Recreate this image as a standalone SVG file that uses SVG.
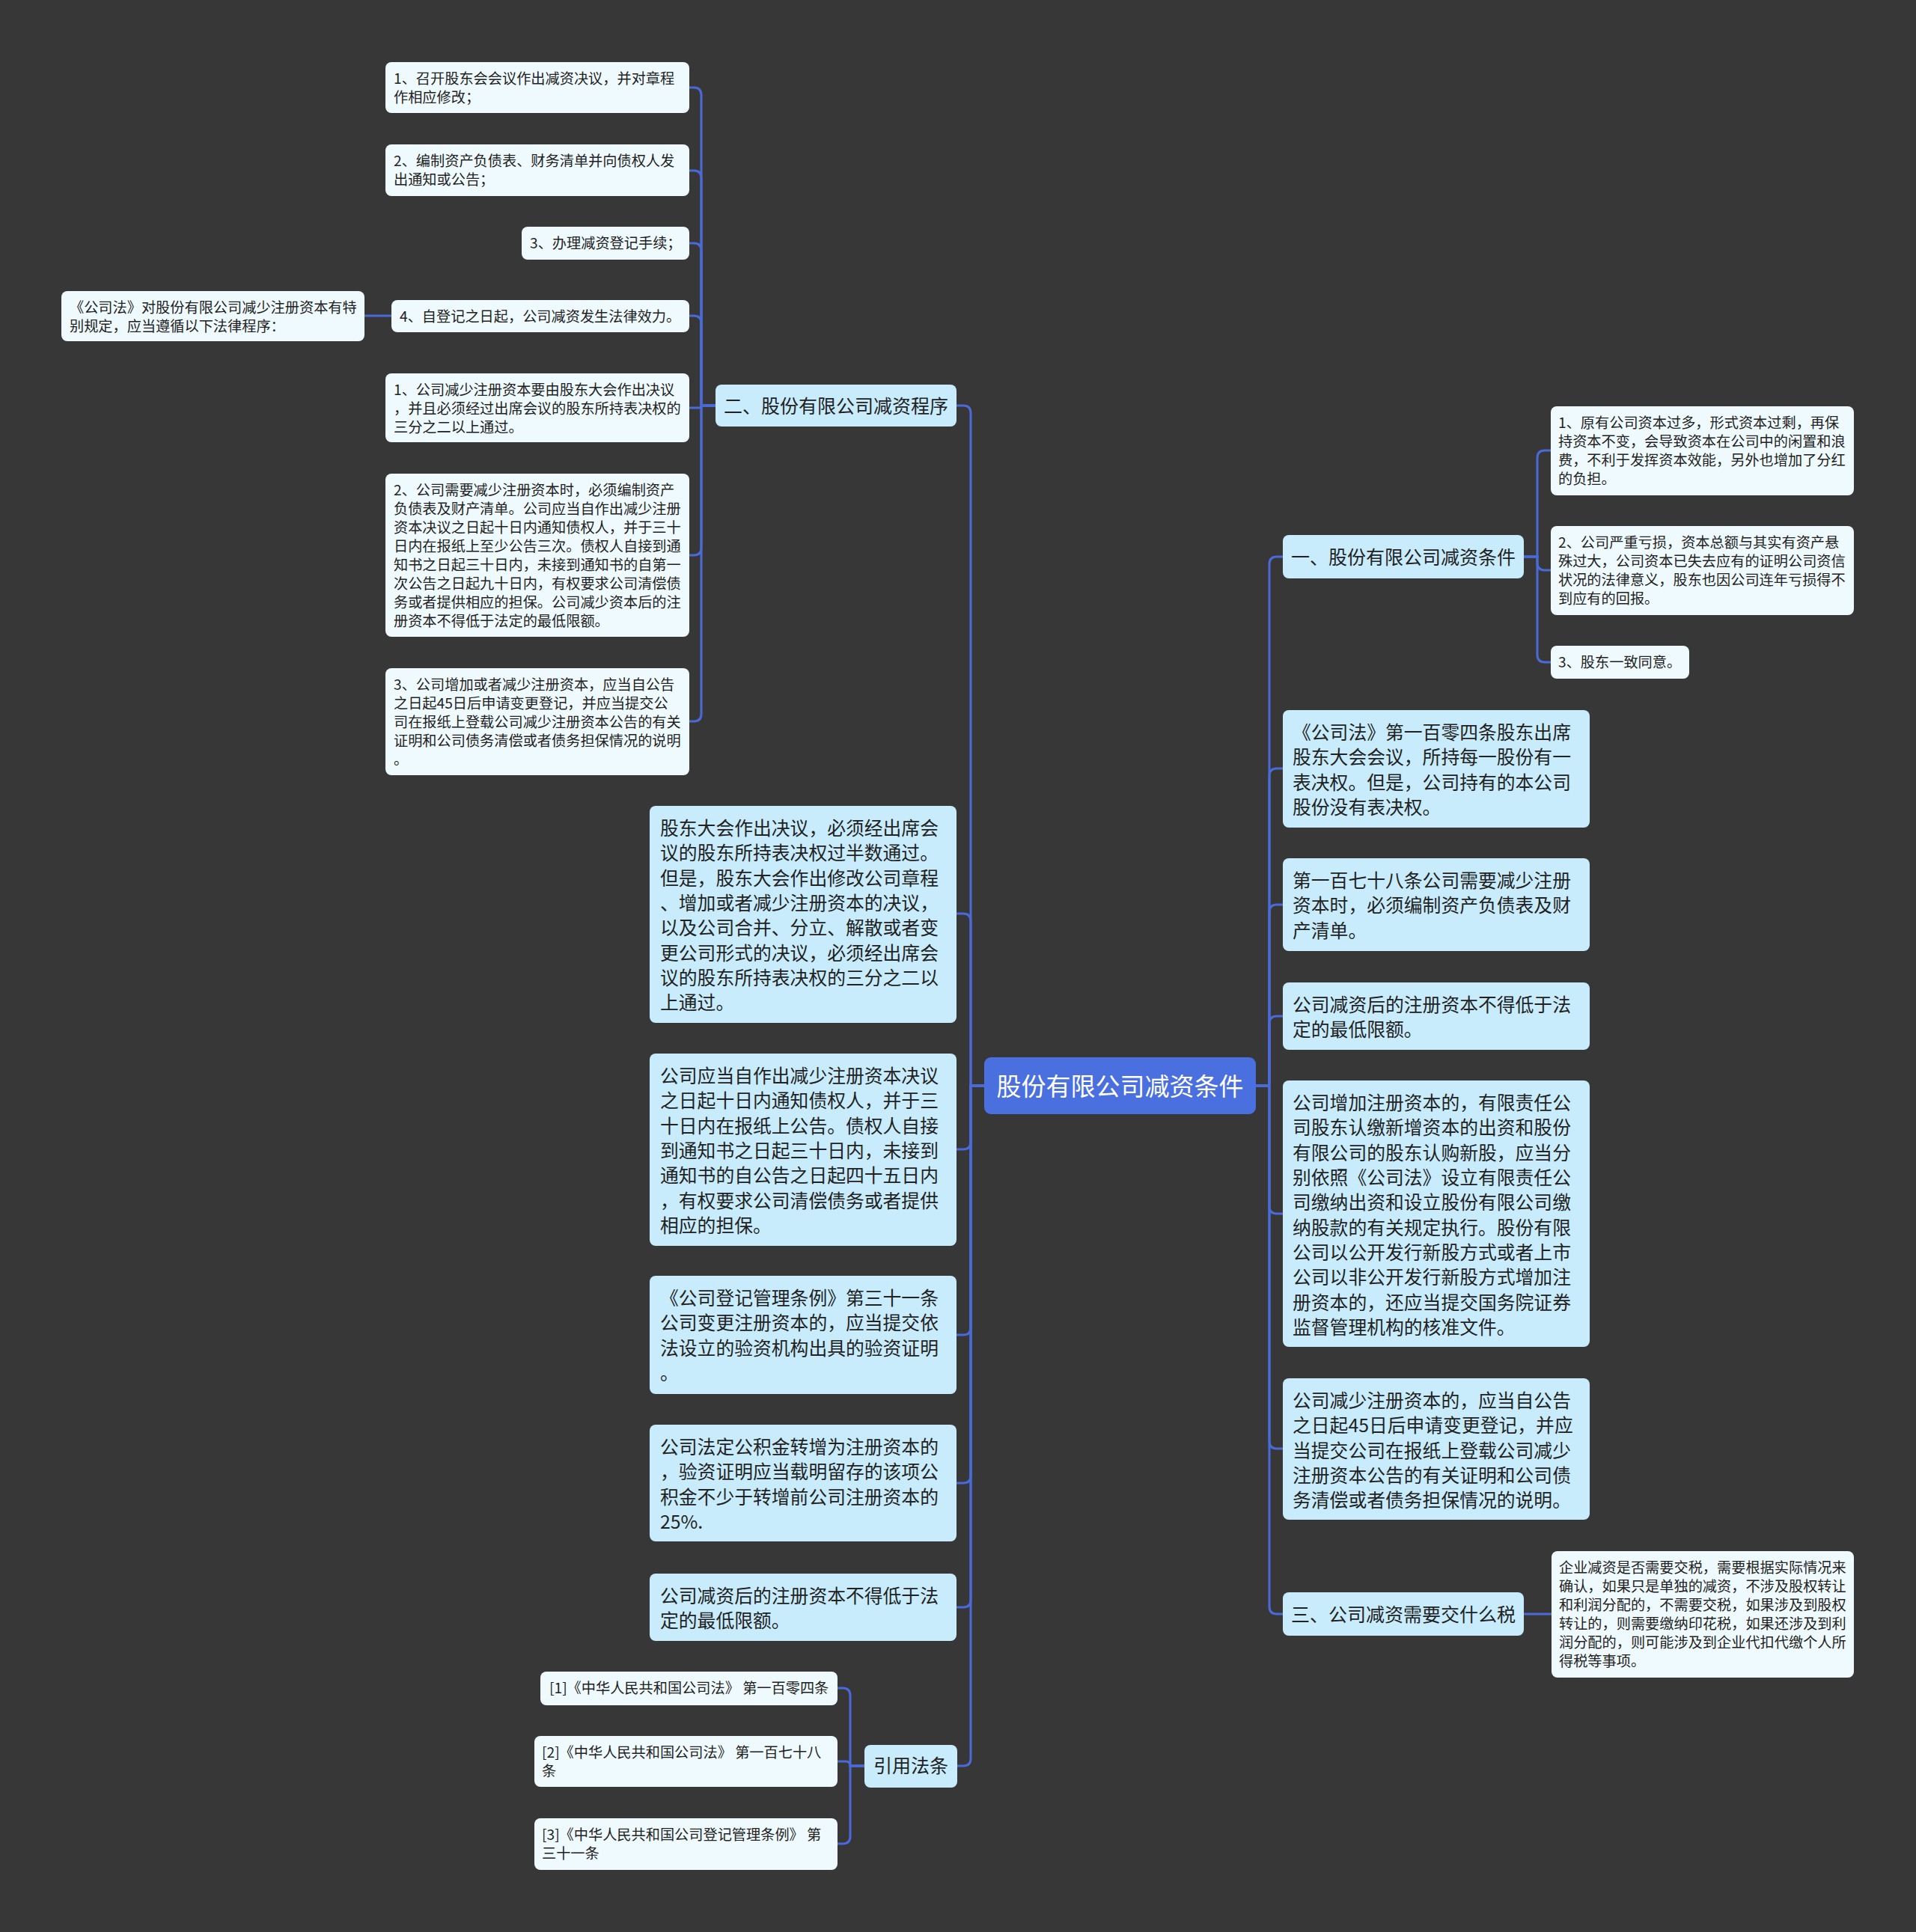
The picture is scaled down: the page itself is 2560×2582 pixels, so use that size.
<svg xmlns="http://www.w3.org/2000/svg" width="2560" height="2582" viewBox="0 0 2560 2582">
<style>
text{font-family:"Noto Sans CJK SC","Noto Sans",sans-serif;fill:#222}
.leaf{fill:#effafe}
.big{fill:#c8ecfc}
.root{fill:#4a6fdf}
.ts{font-size:19.2px}
.tb{font-size:24.8px}
.tl{font-size:25px}
.tr{font-size:33px;fill:#fff}
.c{fill:none;stroke:#4a6ad8;stroke-width:3}
</style>
<rect width="2560" height="2582" fill="#383738"/>
<g id="connectors">
<path class="c" d="M1315 1451 H1297 V552 Q1297 542 1287 542 H1278"/>
<path class="c" d="M1315 1451 H1297 V1231 Q1297 1221 1287 1221 H1278"/>
<path class="c" d="M1315 1451 H1297 V1526 Q1297 1536 1287 1536 H1278"/>
<path class="c" d="M1315 1451 H1297 V1774 Q1297 1784 1287 1784 H1278"/>
<path class="c" d="M1315 1451 H1297 V1972 Q1297 1982 1287 1982 H1278"/>
<path class="c" d="M1315 1451 H1297 V2138 Q1297 2148 1287 2148 H1278"/>
<path class="c" d="M1315 1451 H1297 V2350 Q1297 2360 1287 2360 H1279"/>
<path class="c" d="M1678 1451 H1696 V754 Q1696 744 1706 744 H1714"/>
<path class="c" d="M1678 1451 H1696 V1037 Q1696 1027 1706 1027 H1714"/>
<path class="c" d="M1678 1451 H1696 V1219 Q1696 1209 1706 1209 H1714"/>
<path class="c" d="M1678 1451 H1696 V1368 Q1696 1358 1706 1358 H1714"/>
<path class="c" d="M1678 1451 H1696 V1612 Q1696 1622 1706 1622 H1714"/>
<path class="c" d="M1678 1451 H1696 V1926 Q1696 1936 1706 1936 H1714"/>
<path class="c" d="M1678 1451 H1696 V2147 Q1696 2157 1706 2157 H1714"/>
<path class="c" d="M956 542 H937 V127 Q937 117 927 117 H921"/>
<path class="c" d="M956 542 H937 V238 Q937 228 927 228 H921"/>
<path class="c" d="M956 542 H937 V335 Q937 325 927 325 H921"/>
<path class="c" d="M956 542 H937 V432 Q937 422 927 422 H921"/>
<path class="c" d="M956 542 H937 Q937 545 934 545 H921"/>
<path class="c" d="M956 542 H937 V732 Q937 742 927 742 H921"/>
<path class="c" d="M956 542 H937 V954 Q937 964 927 964 H921"/>
<path class="c" d="M523 422 H487"/>
<path class="c" d="M2036 744 H2054 V612 Q2054 602 2064 602 H2072"/>
<path class="c" d="M2036 744 H2054 V752 Q2054 762 2064 762 H2072"/>
<path class="c" d="M2036 744 H2054 V875 Q2054 885 2064 885 H2072"/>
<path class="c" d="M2036 2157 H2073"/>
<path class="c" d="M1155 2360 H1136 V2266 Q1136 2256 1126 2256 H1119"/>
<path class="c" d="M1155 2360 H1136 Q1136 2354 1130 2354 H1119"/>
<path class="c" d="M1155 2360 H1136 V2454 Q1136 2464 1126 2464 H1119"/>
</g>
<g id="root">
<rect class="root" x="1315" y="1413" width="363" height="76" rx="9"/>
<text class="tr" x="1496.5" y="1463.5" text-anchor="middle">股份有限公司减资条件</text>
</g>
<g id="n-procedure">
<rect class="big" x="956" y="514" width="322" height="56" rx="8"/>
<text class="tl" x="1117" y="551.5" text-anchor="middle">二、股份有限公司减资程序</text>
</g>
<g id="p1"><rect class="leaf" x="515" y="83" width="406" height="68" rx="8"/>
<text class="ts" x="526" y="112.3"><tspan x="526">1、召开股东会会议作出减资决议，并对章程</tspan><tspan x="526" dy="25">作相应修改；</tspan></text></g>
<g id="p2"><rect class="leaf" x="515" y="193" width="406" height="69" rx="8"/>
<text class="ts" x="526" y="222.3"><tspan x="526">2、编制资产负债表、财务清单并向债权人发</tspan><tspan x="526" dy="25">出通知或公告；</tspan></text></g>
<g id="p3"><rect class="leaf" x="697" y="303" width="224" height="44" rx="8"/>
<text class="ts" x="708" y="332.3">3、办理减资登记手续；</text></g>
<g id="p4"><rect class="leaf" x="523" y="401" width="398" height="43" rx="8"/>
<text class="ts" x="534" y="430.3">4、自登记之日起，公司减资发生法律效力。</text></g>
<g id="p4a"><rect class="leaf" x="82" y="389" width="405" height="67" rx="8"/>
<text class="ts" x="93" y="418.3"><tspan x="93">《公司法》对股份有限公司减少注册资本有特</tspan><tspan x="93" dy="25">别规定，应当遵循以下法律程序：</tspan></text></g>
<g id="p5"><rect class="leaf" x="515" y="499" width="406" height="92" rx="8"/>
<text class="ts" x="526" y="528.3"><tspan x="526">1、公司减少注册资本要由股东大会作出决议</tspan><tspan x="526" dy="25">，并且必须经过出席会议的股东所持表决权的</tspan><tspan x="526" dy="25">三分之二以上通过。</tspan></text></g>
<g id="p6"><rect class="leaf" x="515" y="633" width="406" height="218" rx="8"/>
<text class="ts" x="526" y="662.3"><tspan x="526">2、公司需要减少注册资本时，必须编制资产</tspan><tspan x="526" dy="25">负债表及财产清单。公司应当自作出减少注册</tspan><tspan x="526" dy="25">资本决议之日起十日内通知债权人，并于三十</tspan><tspan x="526" dy="25">日内在报纸上至少公告三次。债权人自接到通</tspan><tspan x="526" dy="25">知书之日起三十日内，未接到通知书的自第一</tspan><tspan x="526" dy="25">次公告之日起九十日内，有权要求公司清偿债</tspan><tspan x="526" dy="25">务或者提供相应的担保。公司减少资本后的注</tspan><tspan x="526" dy="25">册资本不得低于法定的最低限额。</tspan></text></g>
<g id="p7"><rect class="leaf" x="515" y="893" width="406" height="143" rx="8"/>
<text class="ts" x="526" y="922.3"><tspan x="526">3、公司增加或者减少注册资本，应当自公告</tspan><tspan x="526" dy="25">之日起45日后申请变更登记，并应当提交公</tspan><tspan x="526" dy="25">司在报纸上登载公司减少注册资本公告的有关</tspan><tspan x="526" dy="25">证明和公司债务清偿或者债务担保情况的说明</tspan><tspan x="526" dy="25">。</tspan></text></g>
<g id="la"><rect class="big" x="868" y="1077" width="410" height="290" rx="8"/>
<text class="tb" x="882" y="1116.1"><tspan x="882">股东大会作出决议，必须经出席会</tspan><tspan x="882" dy="33.3">议的股东所持表决权过半数通过。</tspan><tspan x="882" dy="33.3">但是，股东大会作出修改公司章程</tspan><tspan x="882" dy="33.3">、增加或者减少注册资本的决议，</tspan><tspan x="882" dy="33.3">以及公司合并、分立、解散或者变</tspan><tspan x="882" dy="33.3">更公司形式的决议，必须经出席会</tspan><tspan x="882" dy="33.3">议的股东所持表决权的三分之二以</tspan><tspan x="882" dy="33.3">上通过。</tspan></text></g>
<g id="lb"><rect class="big" x="868" y="1408" width="410" height="257" rx="8"/>
<text class="tb" x="882" y="1447.1"><tspan x="882">公司应当自作出减少注册资本决议</tspan><tspan x="882" dy="33.3">之日起十日内通知债权人，并于三</tspan><tspan x="882" dy="33.3">十日内在报纸上公告。债权人自接</tspan><tspan x="882" dy="33.3">到通知书之日起三十日内，未接到</tspan><tspan x="882" dy="33.3">通知书的自公告之日起四十五日内</tspan><tspan x="882" dy="33.3">，有权要求公司清偿债务或者提供</tspan><tspan x="882" dy="33.3">相应的担保。</tspan></text></g>
<g id="lc"><rect class="big" x="868" y="1705" width="410" height="158" rx="8"/>
<text class="tb" x="882" y="1744.1"><tspan x="882">《公司登记管理条例》第三十一条</tspan><tspan x="882" dy="33.3">公司变更注册资本的，应当提交依</tspan><tspan x="882" dy="33.3">法设立的验资机构出具的验资证明</tspan><tspan x="882" dy="33.3">。</tspan></text></g>
<g id="ld"><rect class="big" x="868" y="1904" width="410" height="156" rx="8"/>
<text class="tb" x="882" y="1943.1"><tspan x="882">公司法定公积金转增为注册资本的</tspan><tspan x="882" dy="33.3">，验资证明应当载明留存的该项公</tspan><tspan x="882" dy="33.3">积金不少于转增前公司注册资本的</tspan><tspan x="882" dy="33.3">25%.</tspan></text></g>
<g id="le"><rect class="big" x="868" y="2103" width="410" height="90" rx="8"/>
<text class="tb" x="882" y="2142.1"><tspan x="882">公司减资后的注册资本不得低于法</tspan><tspan x="882" dy="33.3">定的最低限额。</tspan></text></g>
<g id="n-refs"><rect class="big" x="1155" y="2332" width="124" height="57" rx="8"/>
<text class="tl" x="1217" y="2369" text-anchor="middle">引用法条</text></g>
<g id="ref1"><rect class="leaf" x="722" y="2234" width="397" height="45" rx="8"/>
<text class="ts" x="734" y="2263.3">[1]《中华人民共和国公司法》 第一百零四条</text></g>
<g id="ref2"><rect class="leaf" x="714" y="2320" width="405" height="68" rx="8"/>
<text class="ts" x="724" y="2349.3"><tspan x="724">[2]《中华人民共和国公司法》 第一百七十八</tspan><tspan x="724" dy="25">条</tspan></text></g>
<g id="ref3"><rect class="leaf" x="714" y="2430" width="405" height="69" rx="8"/>
<text class="ts" x="724" y="2459.3"><tspan x="724">[3]《中华人民共和国公司登记管理条例》 第</tspan><tspan x="724" dy="25">三十一条</tspan></text></g>
<g id="n-conditions"><rect class="big" x="1714" y="715" width="322" height="58" rx="8"/>
<text class="tl" x="1875" y="753.5" text-anchor="middle">一、股份有限公司减资条件</text></g>
<g id="c1"><rect class="leaf" x="2072" y="543" width="405" height="119" rx="8"/>
<text class="ts" x="2082" y="572.3"><tspan x="2082">1、原有公司资本过多，形式资本过剩，再保</tspan><tspan x="2082" dy="25">持资本不变，会导致资本在公司中的闲置和浪</tspan><tspan x="2082" dy="25">费，不利于发挥资本效能，另外也增加了分红</tspan><tspan x="2082" dy="25">的负担。</tspan></text></g>
<g id="c2"><rect class="leaf" x="2072" y="703" width="405" height="119" rx="8"/>
<text class="ts" x="2082" y="732.3"><tspan x="2082">2、公司严重亏损，资本总额与其实有资产悬</tspan><tspan x="2082" dy="25">殊过大，公司资本已失去应有的证明公司资信</tspan><tspan x="2082" dy="25">状况的法律意义，股东也因公司连年亏损得不</tspan><tspan x="2082" dy="25">到应有的回报。</tspan></text></g>
<g id="c3"><rect class="leaf" x="2072" y="863" width="185" height="44" rx="8"/>
<text class="ts" x="2082" y="892.3">3、股东一致同意。</text></g>
<g id="ra"><rect class="big" x="1714" y="949" width="410" height="157" rx="8"/>
<text class="tb" x="1727" y="988.1"><tspan x="1727">《公司法》第一百零四条股东出席</tspan><tspan x="1727" dy="33.3">股东大会会议，所持每一股份有一</tspan><tspan x="1727" dy="33.3">表决权。但是，公司持有的本公司</tspan><tspan x="1727" dy="33.3">股份没有表决权。</tspan></text></g>
<g id="rb"><rect class="big" x="1714" y="1147" width="410" height="124" rx="8"/>
<text class="tb" x="1727" y="1186.1"><tspan x="1727">第一百七十八条公司需要减少注册</tspan><tspan x="1727" dy="33.3">资本时，必须编制资产负债表及财</tspan><tspan x="1727" dy="33.3">产清单。</tspan></text></g>
<g id="rc"><rect class="big" x="1714" y="1313" width="410" height="90" rx="8"/>
<text class="tb" x="1727" y="1352.1"><tspan x="1727">公司减资后的注册资本不得低于法</tspan><tspan x="1727" dy="33.3">定的最低限额。</tspan></text></g>
<g id="rd"><rect class="big" x="1714" y="1444" width="410" height="356" rx="8"/>
<text class="tb" x="1727" y="1483.1"><tspan x="1727">公司增加注册资本的，有限责任公</tspan><tspan x="1727" dy="33.3">司股东认缴新增资本的出资和股份</tspan><tspan x="1727" dy="33.3">有限公司的股东认购新股，应当分</tspan><tspan x="1727" dy="33.3">别依照《公司法》设立有限责任公</tspan><tspan x="1727" dy="33.3">司缴纳出资和设立股份有限公司缴</tspan><tspan x="1727" dy="33.3">纳股款的有关规定执行。股份有限</tspan><tspan x="1727" dy="33.3">公司以公开发行新股方式或者上市</tspan><tspan x="1727" dy="33.3">公司以非公开发行新股方式增加注</tspan><tspan x="1727" dy="33.3">册资本的，还应当提交国务院证券</tspan><tspan x="1727" dy="33.3">监督管理机构的核准文件。</tspan></text></g>
<g id="re"><rect class="big" x="1714" y="1842" width="410" height="189" rx="8"/>
<text class="tb" x="1727" y="1881.1"><tspan x="1727">公司减少注册资本的，应当自公告</tspan><tspan x="1727" dy="33.3">之日起45日后申请变更登记，并应</tspan><tspan x="1727" dy="33.3">当提交公司在报纸上登载公司减少</tspan><tspan x="1727" dy="33.3">注册资本公告的有关证明和公司债</tspan><tspan x="1727" dy="33.3">务清偿或者债务担保情况的说明。</tspan></text></g>
<g id="n-tax"><rect class="big" x="1714" y="2128" width="322" height="58" rx="8"/>
<text class="tl" x="1875" y="2166.5" text-anchor="middle">三、公司减资需要交什么税</text></g>
<g id="t1"><rect class="leaf" x="2073" y="2073" width="404" height="169" rx="8"/>
<text class="ts" x="2083" y="2102.3"><tspan x="2083">企业减资是否需要交税，需要根据实际情况来</tspan><tspan x="2083" dy="25">确认，如果只是单独的减资，不涉及股权转让</tspan><tspan x="2083" dy="25">和利润分配的，不需要交税，如果涉及到股权</tspan><tspan x="2083" dy="25">转让的，则需要缴纳印花税，如果还涉及到利</tspan><tspan x="2083" dy="25">润分配的，则可能涉及到企业代扣代缴个人所</tspan><tspan x="2083" dy="25">得税等事项。</tspan></text></g>
</svg>
